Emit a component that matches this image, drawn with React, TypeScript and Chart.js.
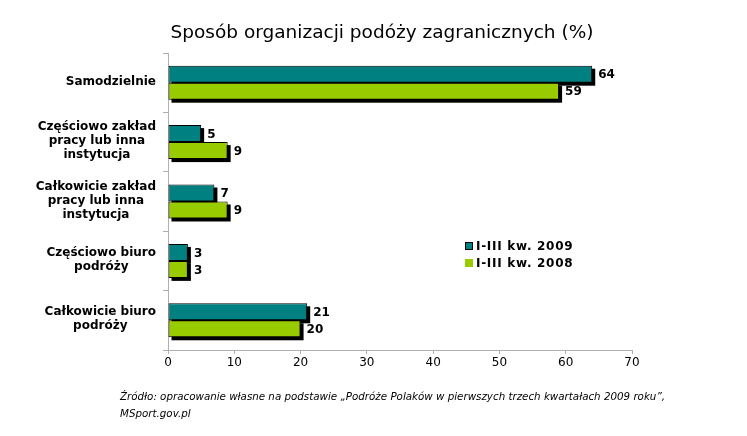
import React, { useRef, useEffect } from "react";
import { Chart, registerables } from "chart.js";

Chart.register(...registerables);

// dane wykresu
const categories: string[][] = [
  ["Samodzielnie"],
  ["Częściowo zakład", "pracy lub inna", "instytucja"],
  ["Całkowicie zakład", "pracy lub inna", "instytucja"],
  ["Częściowo biuro", "podróży"],
  ["Całkowicie biuro", "podróży"],
];
const seriesNames = ["I-III kw. 2009", "I-III kw. 2008"];
const values2009 = [64, 5, 7, 3, 21];
const values2008 = [59, 9, 9, 3, 20];
const xTicks = [0, 10, 20, 30, 40, 50, 60, 70];

const title = "Sposób organizacji podóży zagranicznych (%)";
const sourceLines = [
  "Źródło: opracowanie własne na podstawie „Podróże Polaków w pierwszych trzech kwartałach 2009 roku”,",
  "MSport.gov.pl",
];

const FONT = "'DejaVu Sans', Verdana, sans-serif";
const colors = ["#008080", "#99CC00"];

// cień pod słupkami
const shadowPlugin = {
  id: "barShadow",
  beforeDatasetsDraw(chart: any) {
    const ctx = chart.ctx;
    ctx.save();
    ctx.fillStyle = "#000";
    chart.data.datasets.forEach((_: any, i: number) => {
      chart.getDatasetMeta(i).data.forEach((bar: any) => {
        const { x, y, base, height } = bar.getProps(["x", "y", "base", "height"], true);
        ctx.fillRect(base + 3, y - height / 2 + 3, x - base, height);
      });
    });
    ctx.restore();
  },
};

// etykiety kategorii, wartości, tytuł, legenda, źródło
const textPlugin = {
  id: "texts",
  afterDraw(chart: any) {
    const ctx = chart.ctx;
    ctx.save();
    ctx.fillStyle = "#000";
    ctx.textBaseline = "middle";

    // etykiety kategorii: blok wyrównany do prawej, linie wyśrodkowane
    ctx.font = `bold 12px ${FONT}`;
    ctx.textAlign = "center";
    const yScale = chart.scales.y;
    const right = yScale.right - 12;
    categories.forEach((lines, i) => {
      const cy = yScale.getPixelForValue(i);
      const w = Math.max(...lines.map((l) => ctx.measureText(l).width));
      const cx = right - w / 2;
      const lh = 14;
      lines.forEach((l, k) => {
        ctx.fillText(l, cx, cy - ((lines.length - 1) * lh) / 2 + k * lh - 1);
      });
    });

    ctx.textAlign = "left";
    chart.data.datasets.forEach((ds: any, i: number) => {
      chart.getDatasetMeta(i).data.forEach((bar: any, j: number) => {
        ctx.fillText(String(ds.data[j]), bar.x + 6, bar.y + 1);
      });
    });

    ctx.font = `18.5px ${FONT}`;
    ctx.textAlign = "center";
    ctx.fillText(title, 382, 33);

    ctx.font = `bold 12px ${FONT}`;
    ctx.textAlign = "left";
    (ctx as any).letterSpacing = "0.7px";
    seriesNames.forEach((name, i) => {
      const y = 246 + i * 17;
      ctx.fillStyle = colors[i];
      ctx.fillRect(465, y - 4, 8, 8);
      if (i === 0) {
        ctx.strokeStyle = "#000";
        ctx.lineWidth = 1;
        ctx.strokeRect(465.5, y - 3.5, 7, 7);
      }
      ctx.fillStyle = "#000";
      ctx.fillText(name, 476, y + 1);
    });
    (ctx as any).letterSpacing = "0px";

    ctx.font = `italic 10.3px ${FONT}`;
    sourceLines.forEach((line, i) => {
      ctx.fillText(line, 120, 397 + i * 17);
    });
    ctx.restore();
  },
};

const BarChart = () => {
  const chartRef = useRef<HTMLCanvasElement>(null);

  useEffect(() => {
    if (!chartRef.current) return;
    const ctx = chartRef.current.getContext("2d");
    if (!ctx) return;

    const chart = new Chart(ctx, {
      type: "bar",
      data: {
        labels: categories.map((c) => c.join(" ")),
        datasets: [
          {
            label: seriesNames[0],
            data: values2009,
            backgroundColor: colors[0],
            borderColor: "#000",
            borderWidth: 1,
            borderSkipped: false,
          },
          {
            label: seriesNames[1],
            data: values2008,
            backgroundColor: colors[1],
            borderColor: "#000",
            borderWidth: 1,
            borderSkipped: false,
          },
        ],
      },
      options: {
        indexAxis: "y",
        animation: false,
        responsive: false,
        devicePixelRatio: 1,
        categoryPercentage: 0.572,
        barPercentage: 1,
        layout: { padding: { left: 0, top: 53, right: 115, bottom: 0 } },
        plugins: {
          legend: { display: false },
          title: { display: false },
          tooltip: { enabled: false },
        },
        scales: {
          x: {
            min: 0,
            max: 70,
            afterBuildTicks: (scale: any) => {
              scale.ticks = xTicks.map((v) => ({ value: v }));
            },
            afterFit: (scale: any) => {
              scale.height = 86;
            },
            grid: {
              drawOnChartArea: false,
              drawTicks: true,
              tickLength: 4,
              color: "#b0b0b0",
            },
            border: { color: "#b0b0b0" },
            ticks: {
              padding: 2,
              color: "#000",
              font: { family: FONT, size: 12 },
              maxRotation: 0,
            },
          },
          y: {
            afterFit: (scale: any) => {
              scale.width = 168;
            },
            grid: {
              drawOnChartArea: false,
              drawTicks: true,
              tickLength: 5,
              color: "#b0b0b0",
              offset: true,
            },
            border: { color: "#b0b0b0" },
            ticks: { display: false },
          },
        },
      },
      plugins: [shadowPlugin, textPlugin],
    } as any);

    return () => chart.destroy();
  }, []);

  return <canvas ref={chartRef} width={747} height={436} style={{ display: "block" }} />;
};

export default function App() {
  useEffect(() => {
    document.body.style.margin = "0";
  }, []);
  return (
    <div style={{ width: 747, height: 436, background: "#fff" }}>
      <BarChart />
    </div>
  );
}
